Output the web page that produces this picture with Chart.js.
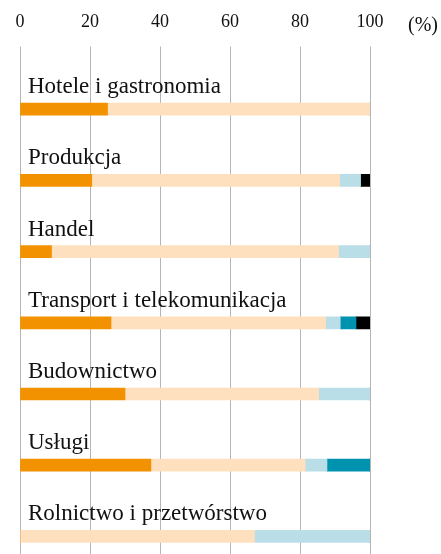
<!DOCTYPE html>
<html>
<head>
<meta charset="utf-8">
<script src="https://cdn.jsdelivr.net/npm/chart.js@4/dist/chart.umd.min.js"></script>
<style>
    html, body { margin: 0; padding: 0; overflow: hidden; background: #fff; }
    #wrap { width: 441px; height: 554px; overflow: hidden; }
</style>
</head>
<body>
<div id="wrap"><canvas id="sektory" width="441" height="576"></canvas></div>
<script>
// Dane
const categories = [
    "Hotele i gastronomia",
    "Produkcja",
    "Handel",
    "Transport i telekomunikacja",
    "Budownictwo",
    "Usługi",
    "Rolnictwo i przetwórstwo",
];
const seriesOrange = [25, 20.5, 9, 26, 30, 37.4, 0];
const seriesPeach = [75, 70.8, 82, 61.3, 55.3, 44.1, 67];
const seriesLightBlue = [0, 6, 9, 4.2, 14.7, 6.2, 33];
const seriesTeal = [0, 0, 0, 4.5, 0, 12.3, 0];
const seriesBlack = [0, 2.7, 0, 4, 0, 0, 0];
const xTicks = [0, 20, 40, 60, 80, 100];
const unitLabel = "(%)";

const FONT = "'Liberation Serif', 'DejaVu Serif', serif";

// Etykiety kategorii nad słupkami
const categoryLabels = {
    id: "categoryLabels",
    beforeDatasetsDraw(chart) {
        const ctx = chart.ctx;
        const y = chart.scales.y;
        ctx.save();
        ctx.font = "23px " + FONT;
        ctx.fillStyle = "#111";
        ctx.textAlign = "left";
        ctx.textBaseline = "alphabetic";
        categories.forEach((c, i) => {
            ctx.fillText(c, chart.chartArea.left + 8, y.getPixelForValue(i) - 16);
        });
        ctx.restore();
    },
    afterDraw(chart) {
        const ctx = chart.ctx;
        ctx.save();
        ctx.font = "20px " + FONT;
        ctx.fillStyle = "#111";
        ctx.textAlign = "left";
        ctx.textBaseline = "alphabetic";
        ctx.fillText(unitLabel, chart.chartArea.right + 38, 31);
        ctx.restore();
    },
};

const makeSet = (data, color) => ({
    data: data,
    backgroundColor: color,
    borderWidth: 0,
    barThickness: 12,
});

new Chart(document.getElementById("sektory").getContext("2d"), {
    type: "bar",
    data: {
        labels: categories,
        datasets: [
            makeSet(seriesOrange, "rgb(243, 146, 0)"),
            makeSet(seriesPeach, "rgb(254, 224, 190)"),
            makeSet(seriesLightBlue, "rgb(186, 222, 231)"),
            makeSet(seriesTeal, "rgb(0, 147, 176)"),
            makeSet(seriesBlack, "rgb(0, 0, 0)"),
        ],
    },
    options: {
        indexAxis: "y",
        responsive: false,
        animation: false,
        layout: { padding: { top: -3, left: 20, right: 71, bottom: 4 } },
        plugins: {
            legend: { display: false },
            tooltip: { enabled: false },
        },
        scales: {
            x: {
                position: "top",
                stacked: true,
                min: 0,
                max: 100,
                z: 1,
                afterBuildTicks: (axis) => {
                    axis.ticks = xTicks.map((v) => ({ value: v }));
                },
                border: { display: false },
                grid: {
                    color: "#b5b5b5",
                    tickColor: "#b5b5b5",
                    lineWidth: 1,
                    tickLength: 27,
                },
                ticks: {
                    padding: 14,
                    color: "#111",
                    font: { family: FONT, size: 18 },
                },
            },
            y: {
                stacked: true,
                display: false,
            },
        },
    },
    plugins: [categoryLabels],
});
</script>
</body>
</html>
